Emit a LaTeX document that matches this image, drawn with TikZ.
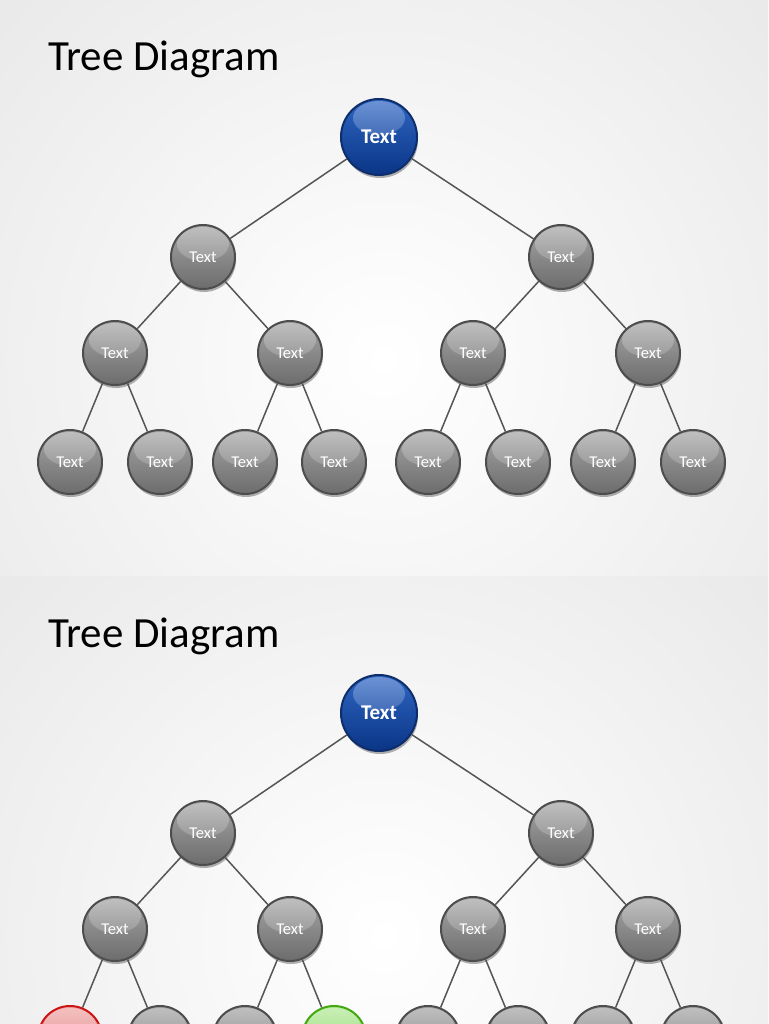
\documentclass[tikz,border=0pt]{standalone}
\usepackage{fontspec}
\setmainfont{Carlito}
\usetikzlibrary{shadows}
\definecolor{edgegrey}{HTML}{555555}
\definecolor{greyring}{HTML}{4D4D4D}
\definecolor{greytop}{HTML}{A6A6A6}
\definecolor{greybot}{HTML}{6C6C6C}
\definecolor{bluering}{HTML}{0D2D6B}
\definecolor{bluetop}{HTML}{2F66C4}
\definecolor{bluebot}{HTML}{0A3585}
\definecolor{redring}{HTML}{CC1414}
\definecolor{redtop}{HTML}{F0A8A8}
\definecolor{redbot}{HTML}{DA6E6E}
\definecolor{greenring}{HTML}{44A812}
\definecolor{greentop}{HTML}{B4EA98}
\definecolor{greenbot}{HTML}{78CC52}
\definecolor{slideedge}{HTML}{D6D6D6}
\tikzset{
  ball/.style n args={3}{circle, draw=#1, line width=2pt, inner sep=0pt,
    minimum size=64pt, top color=#2, bottom color=#3, text=white,
    font=\fontsize{16.5}{16.5}\selectfont,
    drop shadow={shadow xshift=1pt, shadow yshift=-3pt, opacity=.3, fill=black},
    path picture={\shade[top color=white, bottom color=#2, opacity=.3]
      (path picture bounding box.north) ++(0,-19pt) ellipse (26pt and 17pt);}},
  greyball/.style={ball={greyring}{greytop}{greybot}},
  redball/.style={ball={redring}{redtop}{redbot}},
  greenball/.style={ball={greenring}{greentop}{greenbot}},
  rootball/.style={ball={bluering}{bluetop}{bluebot}, minimum size=76pt,
    font=\fontsize{21}{21}\selectfont\bfseries},
  branch/.style={draw=edgegrey, line width=1.5pt},
  title/.style={anchor=base west, inner sep=0pt, font=\fontsize{43}{50}\selectfont}
}
\begin{document}
\begin{tikzpicture}[x=1pt,y=-1pt]
\useasboundingbox (0,0) rectangle (768,1024);
\clip (0,0) rectangle (768,1024);
% slide backgrounds
\begin{scope}
\clip (0,0) rectangle (768,576);
\shade[inner color=white, outer color=slideedge] (384,360) circle (1000);
\end{scope}
\begin{scope}
\clip (0,576) rectangle (768,1024);
\shade[inner color=white, outer color=slideedge] (384,936) circle (1000);
\end{scope}
% first slide
\node[title] (titleA) at (48,71) {Tree Diagram};
\node[rootball] (rootA) at (379,137) {Text};
\node[greyball] (lA) at (203,257) {Text};
\node[greyball] (rA) at (561,257) {Text};
\node[greyball] (llA) at (115,353) {Text};
\node[greyball] (lrA) at (290,353) {Text};
\node[greyball] (rlA) at (473,353) {Text};
\node[greyball] (rrA) at (648,353) {Text};
\node[greyball] (lllA) at (70,462) {Text};
\node[greyball] (llrA) at (160,462) {Text};
\node[greyball] (lrlA) at (245,462) {Text};
\node[greyball] (lrrA) at (334,462) {Text};
\node[greyball] (rllA) at (428,462) {Text};
\node[greyball] (rlrA) at (518,462) {Text};
\node[greyball] (rrlA) at (603,462) {Text};
\node[greyball] (rrrA) at (693,462) {Text};
\draw[branch] (rootA) -- (lA);
\draw[branch] (rootA) -- (rA);
\draw[branch] (lA) -- (llA);
\draw[branch] (lA) -- (lrA);
\draw[branch] (rA) -- (rlA);
\draw[branch] (rA) -- (rrA);
\draw[branch] (llA) -- (lllA);
\draw[branch] (llA) -- (llrA);
\draw[branch] (lrA) -- (lrlA);
\draw[branch] (lrA) -- (lrrA);
\draw[branch] (rlA) -- (rllA);
\draw[branch] (rlA) -- (rlrA);
\draw[branch] (rrA) -- (rrlA);
\draw[branch] (rrA) -- (rrrA);
% second slide (its bottom row is cut by the page edge)
\node[title] (titleB) at (48,647) {Tree Diagram};
\node[rootball] (rootB) at (379,713) {Text};
\node[greyball] (lB) at (203,833) {Text};
\node[greyball] (rB) at (561,833) {Text};
\node[greyball] (llB) at (115,929) {Text};
\node[greyball] (lrB) at (290,929) {Text};
\node[greyball] (rlB) at (473,929) {Text};
\node[greyball] (rrB) at (648,929) {Text};
\node[redball] (lllB) at (70,1038) {};
\node[greyball] (llrB) at (160,1038) {};
\node[greyball] (lrlB) at (245,1038) {};
\node[greenball] (lrrB) at (334,1038) {};
\node[greyball] (rllB) at (428,1038) {};
\node[greyball] (rlrB) at (518,1038) {};
\node[greyball] (rrlB) at (603,1038) {};
\node[greyball] (rrrB) at (693,1038) {};
\draw[branch] (rootB) -- (lB);
\draw[branch] (rootB) -- (rB);
\draw[branch] (lB) -- (llB);
\draw[branch] (lB) -- (lrB);
\draw[branch] (rB) -- (rlB);
\draw[branch] (rB) -- (rrB);
\draw[branch] (llB) -- (lllB);
\draw[branch] (llB) -- (llrB);
\draw[branch] (lrB) -- (lrlB);
\draw[branch] (lrB) -- (lrrB);
\draw[branch] (rlB) -- (rllB);
\draw[branch] (rlB) -- (rlrB);
\draw[branch] (rrB) -- (rrlB);
\draw[branch] (rrB) -- (rrrB);
\end{tikzpicture}
\end{document}
